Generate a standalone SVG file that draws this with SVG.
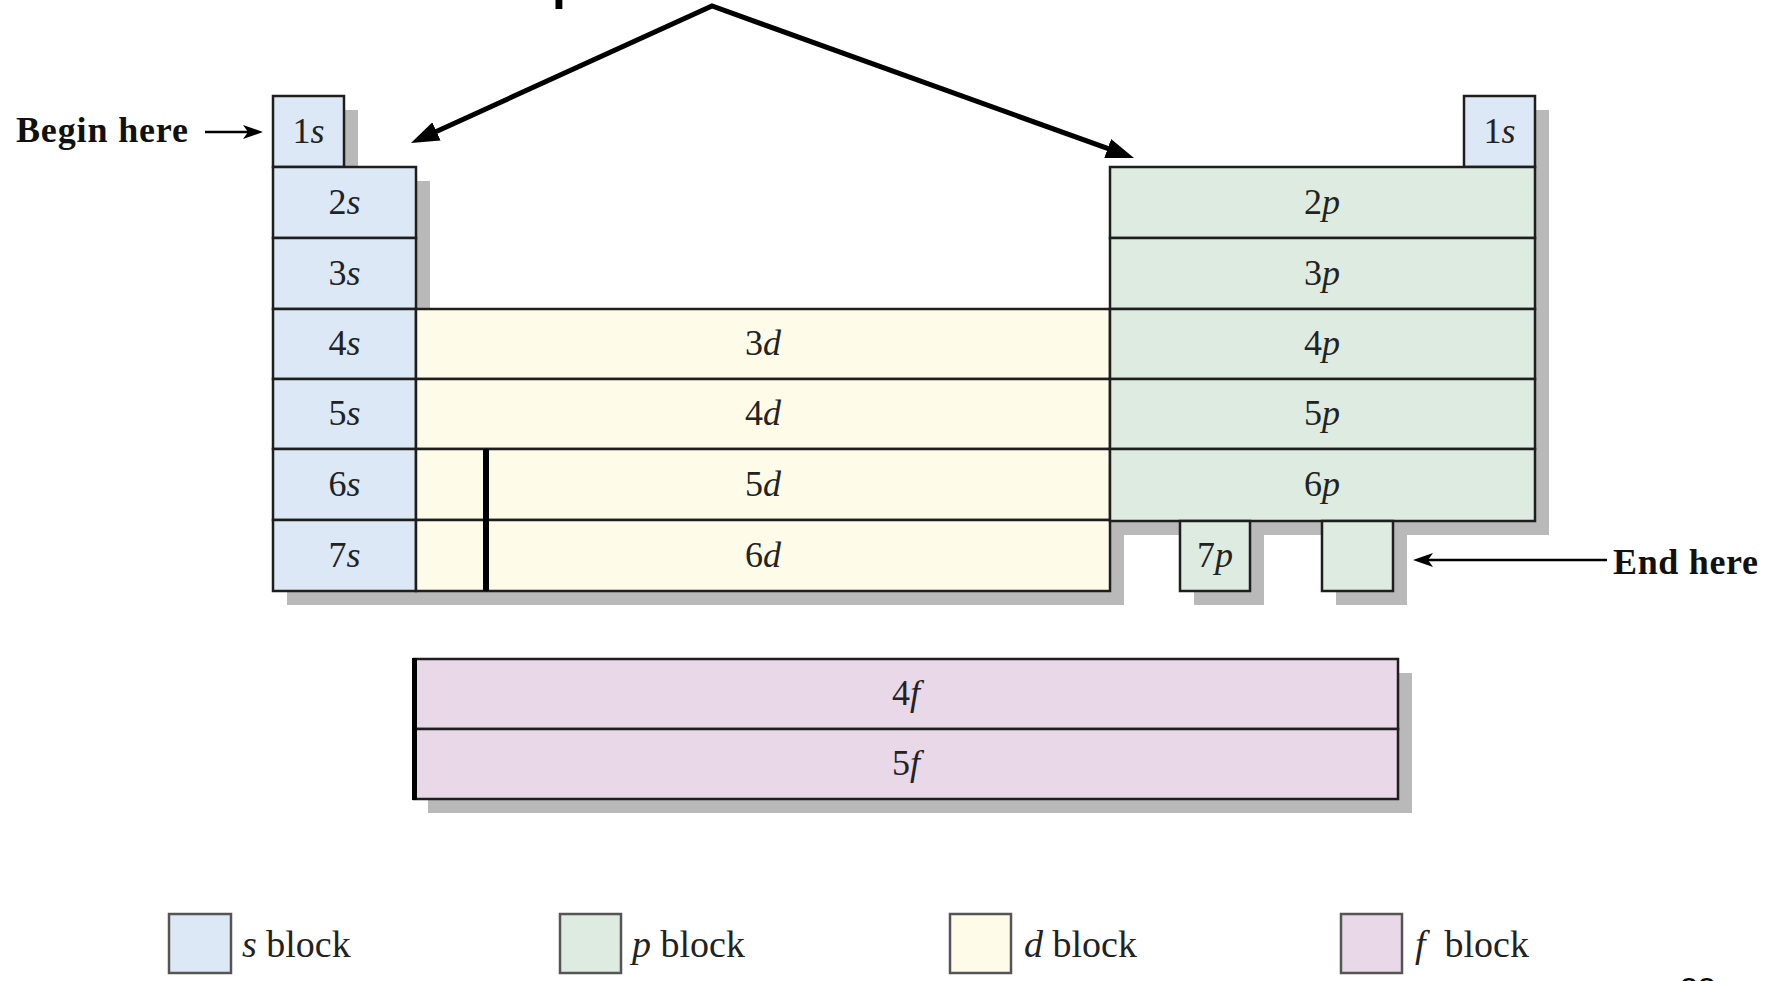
<svg xmlns="http://www.w3.org/2000/svg" width="1768" height="981" viewBox="0 0 1768 981">
  <style>
    .cell{stroke:#1e1e1e;stroke-width:2.5}
    .s{fill:#dce8f5}
    .p{fill:#ddebe1}
    .d{fill:#fefbe9}
    .f{fill:#e8d8e8}
    .sh{fill:#b9b9b9}
    .lbl{font-family:"Liberation Serif",serif;font-size:36px;fill:#222;text-anchor:middle}
    .it{font-style:italic}
    .note{font-family:"Liberation Serif",serif;font-size:36px;font-weight:bold;fill:#111}
    .leg{font-family:"Liberation Serif",serif;font-size:38px;fill:#222}
    .legbox{stroke:#555;stroke-width:2.5}
    .bar{fill:#000}
  </style>
  <defs>
    <marker id="bigHead" markerUnits="userSpaceOnUse" markerWidth="28" markerHeight="20" viewBox="0 0 28 20" refX="8" refY="10" orient="auto-start-reverse">
      <path d="M0,0 L28,10 L0,20 z" fill="#000"/>
    </marker>
    <marker id="smallHead" markerUnits="userSpaceOnUse" markerWidth="20" markerHeight="14" viewBox="0 0 20 14" refX="5" refY="7" orient="auto">
      <path d="M0,0 L20,7 L0,14 L5,7 z" fill="#000"/>
    </marker>
  </defs>

  <rect width="1768" height="981" fill="#fff"/>

  <!-- heading and page number, clipped by the page edges -->
  <text x="552" y="-1" font-family="Liberation Sans, sans-serif" font-size="50" font-weight="bold" fill="#000">p</text>
  <text x="1680" y="1000" font-family="Liberation Sans, sans-serif" font-size="32" fill="#000">22</text>

  <!-- drop shadows -->
  <g id="shadows" class="sh" transform="translate(14,14)">
    <rect x="273" y="96" width="71" height="71"/>
    <rect x="273" y="167" width="143" height="424"/>
    <rect x="416" y="309" width="694" height="282"/>
    <rect x="1110" y="167" width="425" height="354"/>
    <rect x="1464" y="96" width="71" height="71"/>
    <rect x="1180" y="521" width="70" height="70"/>
    <rect x="1322" y="521" width="71" height="70"/>
    <rect x="414" y="659" width="984" height="140"/>
  </g>

  <!-- s block -->
  <g id="s-block">
    <g id="cell-1s-left"><rect class="cell s" x="273" y="96" width="71" height="71"/><text class="lbl" x="308.5" y="143">1<tspan class="it">s</tspan></text></g>
    <g id="cell-2s"><rect class="cell s" x="273" y="167" width="143" height="71"/><text class="lbl" x="344.5" y="214">2<tspan class="it">s</tspan></text></g>
    <g id="cell-3s"><rect class="cell s" x="273" y="238" width="143" height="71"/><text class="lbl" x="344.5" y="285">3<tspan class="it">s</tspan></text></g>
    <g id="cell-4s"><rect class="cell s" x="273" y="309" width="143" height="70"/><text class="lbl" x="344.5" y="355">4<tspan class="it">s</tspan></text></g>
    <g id="cell-5s"><rect class="cell s" x="273" y="379" width="143" height="70"/><text class="lbl" x="344.5" y="425">5<tspan class="it">s</tspan></text></g>
    <g id="cell-6s"><rect class="cell s" x="273" y="449" width="143" height="71"/><text class="lbl" x="344.5" y="496">6<tspan class="it">s</tspan></text></g>
    <g id="cell-7s"><rect class="cell s" x="273" y="520" width="143" height="71"/><text class="lbl" x="344.5" y="567">7<tspan class="it">s</tspan></text></g>
    <g id="cell-1s-right"><rect class="cell s" x="1464" y="96" width="71" height="71"/><text class="lbl" x="1499.5" y="143">1<tspan class="it">s</tspan></text></g>
  </g>

  <!-- d block -->
  <g id="d-block">
    <g id="cell-3d"><rect class="cell d" x="416" y="309" width="694" height="70"/><text class="lbl" x="763" y="355">3<tspan class="it">d</tspan></text></g>
    <g id="cell-4d"><rect class="cell d" x="416" y="379" width="694" height="70"/><text class="lbl" x="763" y="425">4<tspan class="it">d</tspan></text></g>
    <g id="cell-5d"><rect class="cell d" x="416" y="449" width="694" height="71"/><text class="lbl" x="763" y="496">5<tspan class="it">d</tspan></text></g>
    <g id="cell-6d"><rect class="cell d" x="416" y="520" width="694" height="71"/><text class="lbl" x="763" y="567">6<tspan class="it">d</tspan></text></g>
    <rect class="bar" x="483" y="449" width="6" height="142"/>
  </g>

  <!-- p block -->
  <g id="p-block">
    <g id="cell-2p"><rect class="cell p" x="1110" y="167" width="425" height="71"/><text class="lbl" x="1322" y="214">2<tspan class="it">p</tspan></text></g>
    <g id="cell-3p"><rect class="cell p" x="1110" y="238" width="425" height="71"/><text class="lbl" x="1322" y="285">3<tspan class="it">p</tspan></text></g>
    <g id="cell-4p"><rect class="cell p" x="1110" y="309" width="425" height="70"/><text class="lbl" x="1322" y="355">4<tspan class="it">p</tspan></text></g>
    <g id="cell-5p"><rect class="cell p" x="1110" y="379" width="425" height="70"/><text class="lbl" x="1322" y="425">5<tspan class="it">p</tspan></text></g>
    <g id="cell-6p"><rect class="cell p" x="1110" y="449" width="425" height="72"/><text class="lbl" x="1322" y="496">6<tspan class="it">p</tspan></text></g>
    <g id="cell-7p"><rect class="cell p" x="1180" y="521" width="70" height="70"/><text class="lbl" x="1215" y="567">7<tspan class="it">p</tspan></text></g>
    <g id="cell-empty"><rect class="cell p" x="1322" y="521" width="71" height="70"/></g>
  </g>

  <!-- f block -->
  <g id="f-block">
    <g id="cell-4f"><rect class="cell f" x="414" y="659" width="984" height="70"/><text class="lbl" x="906" y="705">4<tspan class="it">f</tspan></text></g>
    <g id="cell-5f"><rect class="cell f" x="414" y="729" width="984" height="70"/><text class="lbl" x="906" y="775">5<tspan class="it">f</tspan></text></g>
    <rect class="bar" x="412" y="658" width="5" height="142"/>
  </g>

  <!-- start / end notes -->
  <g id="begin-note"><text class="note" x="16" y="142" textLength="172" lengthAdjust="spacing">Begin here</text></g>
  <g id="end-note"><text class="note" x="1613" y="574" textLength="145" lengthAdjust="spacing">End here</text></g>

  <!-- connectors -->
  <g id="connectors" fill="none" stroke="#000">
    <path d="M429.2,134.7 L712,6 L1115.2,151.2" stroke-width="5" stroke-linejoin="miter" marker-start="url(#bigHead)" marker-end="url(#bigHead)"/>
    <line x1="205" y1="132" x2="248" y2="132" stroke-width="2.5" marker-end="url(#smallHead)"/>
    <line x1="1607" y1="560" x2="1428" y2="560" stroke-width="2.5" marker-end="url(#smallHead)"/>
  </g>

  <!-- legend -->
  <g id="legend-s"><rect class="legbox s" x="169" y="914" width="62" height="59"/><text class="leg" x="242" y="957"><tspan class="it">s</tspan> block</text></g>
  <g id="legend-p"><rect class="legbox p" x="560" y="914" width="61" height="59"/><text class="leg" x="632" y="957"><tspan class="it">p</tspan> block</text></g>
  <g id="legend-d"><rect class="legbox d" x="950" y="914" width="61" height="59"/><text class="leg" x="1024" y="957"><tspan class="it">d</tspan> block</text></g>
  <g id="legend-f"><rect class="legbox f" x="1341" y="914" width="61" height="59"/><text class="leg" x="1415" y="957" xml:space="preserve"><tspan class="it">f</tspan>  block</text></g>
</svg>
